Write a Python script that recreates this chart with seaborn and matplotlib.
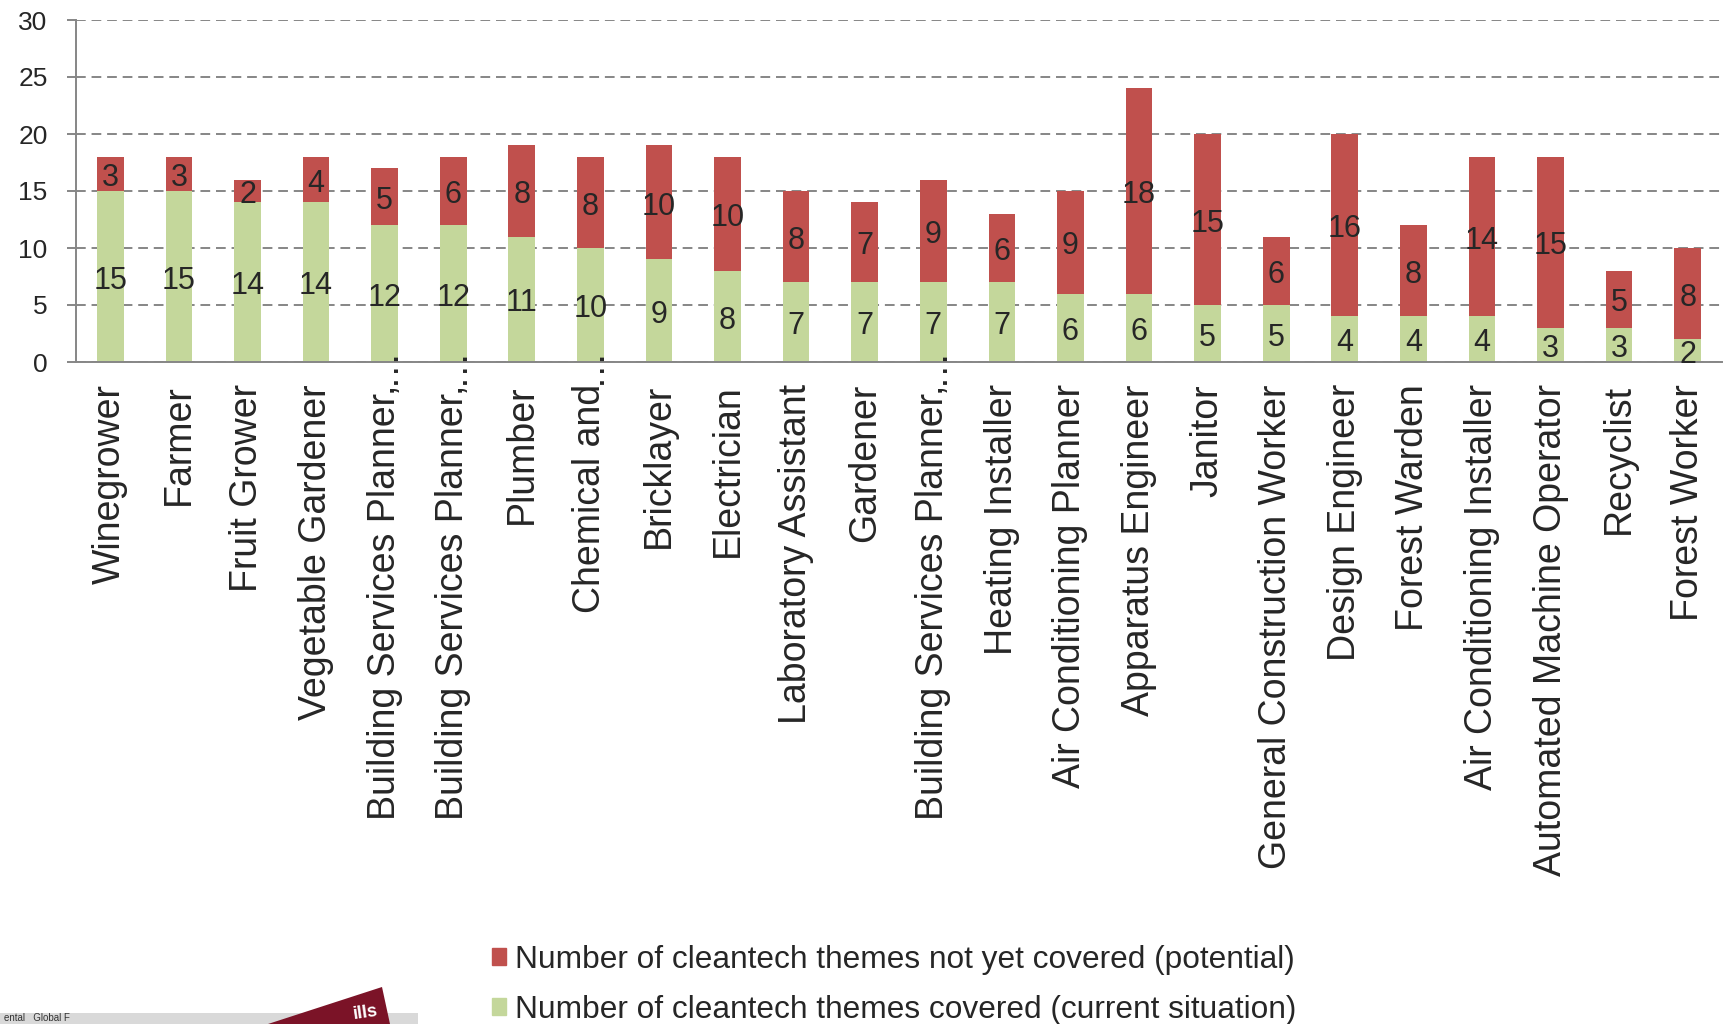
# Stacked bar chart: cleantech themes covered vs. not yet covered per occupation
import matplotlib
matplotlib.use("Agg")
import matplotlib.pyplot as plt
import matplotlib.patches as mpatches
from matplotlib.ticker import FixedLocator
import seaborn as sns
import pandas as pd

# ============ DATA ============
occupations = [
    "Winegrower", "Farmer", "Fruit Grower", "Vegetable Gardener",
    "Building Services Planner,…", "Building Services Planner,…",
    "Plumber", "Chemical and…", "Bricklayer", "Electrician",
    "Laboratory Assistant", "Gardener", "Building Services Planner,…",
    "Heating Installer", "Air Conditioning Planner", "Apparatus Engineer",
    "Janitor", "General Construction Worker", "Design Engineer",
    "Forest Warden", "Air Conditioning Installer",
    "Automated Machine Operator", "Recyclist", "Forest Worker",
]
covered = [15, 15, 14, 14, 12, 12, 11, 10, 9, 8, 7, 7, 7, 7, 6, 6, 5, 5, 4, 4, 4, 3, 3, 2]
not_covered = [3, 3, 2, 4, 5, 6, 8, 8, 10, 10, 8, 7, 9, 6, 9, 18, 15, 6, 16, 8, 14, 15, 5, 8]
y_ticks = [0, 5, 10, 15, 20, 25, 30]

LABEL_NOT = "Number of cleantech themes not yet covered (potential)"
LABEL_COV = "Number of cleantech themes covered (current situation)"
# ==============================

RED = "#C0504D"
GREEN = "#C4D79B"
AXIS_GREY = "#868686"

sns.set_theme(style="white")
plt.rcParams["font.family"] = ["Liberation Sans", "DejaVu Sans"]

df = pd.DataFrame({"occupation": occupations, "covered": covered, "not_covered": not_covered})
df["total"] = df["covered"] + df["not_covered"]
df["idx"] = range(len(df))

W, H = 1725, 1024
fig = plt.figure(figsize=(W / 100, H / 100), dpi=100)
ax = fig.add_axes([76 / W, 1 - 362 / H, (1722 - 76) / W, (362 - 20) / H])

# --- bars: total in red, covered drawn over it in green ---
sns.barplot(data=df, x="idx", y="total", color=RED, saturation=1, width=0.39,
            linewidth=0, ax=ax)
sns.barplot(data=df, x="idx", y="covered", color=GREEN, saturation=1, width=0.39,
            linewidth=0, ax=ax)

# --- segment labels (centred in each segment, nudged down a touch like Excel) ---
for i, row in df.iterrows():
    ax.annotate(str(row["covered"]), xy=(i, row["covered"] / 2), xytext=(0, -3),
                textcoords="offset points", ha="center", va="center", fontsize=22)
    ax.annotate(str(row["not_covered"]), xy=(i, row["covered"] + row["not_covered"] / 2),
                xytext=(0, -3), textcoords="offset points", ha="center", va="center",
                fontsize=22)

# --- axes styling ---
ax.set_xlim(-0.5, len(df) - 0.5)
ax.set_ylim(0, 30)
ax.set_yticks(y_ticks)
ax.yaxis.grid(True, color=AXIS_GREY, linestyle=(0, (5, 3)), linewidth=1.4)
ax.set_axisbelow(True)
for side in ["top", "right"]:
    ax.spines[side].set_visible(False)
for side in ["left", "bottom"]:
    ax.spines[side].set_color(AXIS_GREY)
    ax.spines[side].set_linewidth(1.4)

ax.set_xlabel("")
ax.set_ylabel("")
short_labels = [o.rstrip("…") for o in occupations]
ax.set_xticks(range(len(df)))
ax.set_xticklabels(short_labels, rotation=90, fontsize=27, va="top", ha="center")
ax.tick_params(axis="x", which="major", length=0, pad=16)
ax.xaxis.set_minor_locator(FixedLocator([i - 0.5 for i in range(len(df) + 1)]))
ax.tick_params(axis="x", which="minor", length=7, width=1.4, color=AXIS_GREY, direction="out")
ax.tick_params(axis="y", length=6.5, width=1.4, color=AXIS_GREY, labelsize=19, pad=14,
               direction="out", left=True)

# truncated labels: Excel draws the ellipsis just past the label start
for i, o in enumerate(occupations):
    if o.endswith("…"):
        ax.annotate("…", xy=(i, 0), xytext=(-0.5, -2), textcoords="offset points",
                    rotation=90, ha="center", va="center", fontsize=27,
                    annotation_clip=False)

# --- legend ---
handles = [mpatches.Patch(color=RED, label=LABEL_NOT),
           mpatches.Patch(color=GREEN, label=LABEL_COV)]
fig.legend(handles=handles, loc="upper left", bbox_to_anchor=(492 / W, 1 - 945 / H),
           frameon=False, fontsize=22.8, handlelength=0.45, handleheight=0.45,
           handletextpad=0.28, labelspacing=0.62, borderaxespad=0, borderpad=0)

# --- cropped footer remnants (bottom-left) ---
fig.patches.append(mpatches.Rectangle((0, 0), 418 / W, 11 / H, transform=fig.transFigure,
                                      facecolor="#D9D9D9", edgecolor="none"))
fig.patches.append(mpatches.Polygon([(268 / W, 0), (382 / W, 37 / H), (390 / W, 0)],
                                    closed=True, transform=fig.transFigure,
                                    facecolor="#7B1327", edgecolor="none"))
fig.text(366 / W, 1 / H, "ills", color="white", fontsize=13, rotation=8,
         ha="center", va="bottom", fontweight="bold")
fig.text(4 / W, 1 / H, "ental   Global F", color="#333333", fontsize=7, va="bottom")

fig.savefig("out.png", dpi=100)
print("saved out.png")
